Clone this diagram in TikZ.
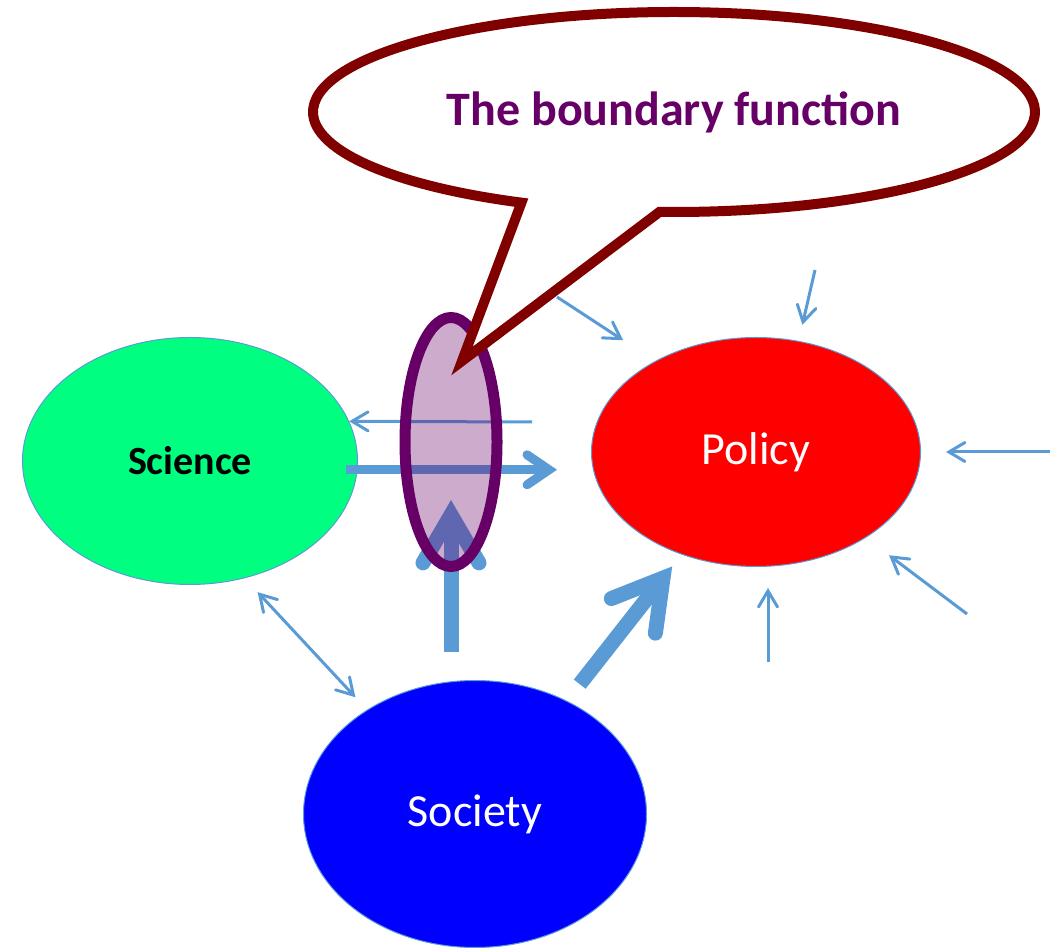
\documentclass[tikz,border=0pt]{standalone}
\usepackage{fontspec}
\setmainfont{Carlito}
\usetikzlibrary{shapes.geometric,arrows.meta}
\definecolor{linkblue}{HTML}{5B9BD5}
\definecolor{sciencegreen}{HTML}{00FF80}
\definecolor{bubblered}{HTML}{800000}
\definecolor{gateplum}{HTML}{660066}

\begin{document}
\begin{tikzpicture}[x=1pt, y=1pt,
  every node/.style={align=center, inner sep=0pt},
  realm/.style={shape=ellipse, draw=linkblue, line width=1pt},
  feed/.style={draw=linkblue, line width=3pt, ->,
    >={Straight Barb[length=16pt, width=19pt, line cap=round, line join=miter]}},
  push/.style={draw=linkblue, line width=9pt,
    -{Straight Barb[length=22pt, width=30pt, line cap=round, line join=miter]}},
  shove/.style={draw=linkblue, line width=15pt,
    -{Straight Barb[length=48pt, width=56pt, line cap=round, line join=miter]}}]
  \useasboundingbox (0,0) rectangle (1059,950);
  \node[realm, fill=sciencegreen, minimum width=335pt, minimum height=247pt,
    font=\fontsize{40}{48}\selectfont\bfseries] (science) at (190,489) {Science};
  \node[realm, fill=red, text=white, minimum width=329pt, minimum height=229pt,
    font=\fontsize{46}{55}\selectfont] (policy) at (756,498) {Policy};
  \node[realm, fill=blue, text=white, minimum width=343pt, minimum height=267pt,
    font=\fontsize{46}{55}\selectfont] (society) at (475,136) {Society};
  \coordinate (gate) at (451,508);
  \coordinate (gate out) at (532,528);
  \coordinate (wind n) at (815,680);
  \coordinate (wind nw) at (557,653);
  \coordinate (wind e) at (1050,498);
  \coordinate (wind se) at (967,336);
  \coordinate (wind s) at (768,288);
  \coordinate (hint) at (462,589);

  \draw[feed] (gate out) -- (science.14);
  \draw[push, shorten >=34pt] ([xshift=-12pt]science.-3) -- (science.-3 -| policy.west);
  \draw[shove, shorten <=28pt, shorten >=58pt] (society.north -| gate) -- (gate);
  \draw[shove, shorten <=21pt, shorten >=15pt] (society.51.8) -- (policy.234.2);
  \draw[feed, <->, shorten <=19pt, shorten >=17pt] (science.-65.5) -- (society.136);
  \draw[feed, shorten >=16.5pt] (wind n) -- (policy.69.7);
  \draw[feed, shorten >=38pt] (wind nw) -- (policy.138.5);
  \draw[feed, shorten >=25pt] (wind e) -- (policy.east);
  \draw[feed, shorten >=29pt] (wind se) -- (policy.-38.7);
  \draw[feed, shorten >=21pt] (wind s) -- (wind s |- policy.south);

  \node[shape=ellipse, draw=gateplum, fill=gateplum, fill opacity=0.33,
    draw opacity=1, line width=11pt, minimum width=92pt, minimum height=249pt]
    (boundary) at (gate) {};

  \draw[draw=bubblered, fill=white, line width=10pt]
    (674,838) ++(267.7:361 and 100)
    arc[start angle=267.7, end angle=605, x radius=361, y radius=100]
    -- (hint) -- cycle;
  \node[text=gateplum, font=\fontsize{48}{58}\selectfont\bfseries] (bubble)
    at (674,838) {The boundary function};
\end{tikzpicture}
\end{document}
